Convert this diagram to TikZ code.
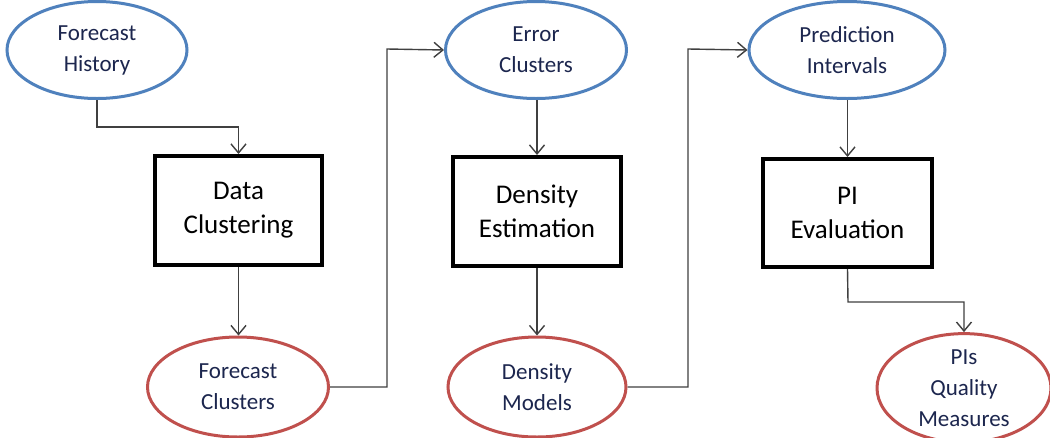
\documentclass[tikz,border=0pt]{standalone}
\usepackage{fontspec}
\setmainfont{Carlito}
\usetikzlibrary{shapes.geometric,arrows.meta}
\definecolor{ellblue}{RGB}{79,129,189}
\definecolor{ellred}{RGB}{192,80,77}
\definecolor{elltext}{RGB}{28,38,78}
\definecolor{conngray}{RGB}{64,64,64}
\tikzset{
  blueell/.style={ellipse,draw=ellblue,line width=3pt,inner sep=0pt,align=center,text=elltext,font=\fontsize{23}{31}\selectfont},
  redell/.style={ellipse,draw=ellred,line width=3pt,inner sep=0pt,align=center,text=elltext,font=\fontsize{23}{31}\selectfont},
  procbox/.style={rectangle,draw=black,line width=4pt,inner sep=0pt,align=center,text=black,font=\fontsize{27}{34}\selectfont},
  conn/.style={draw=conngray,line width=1.4pt,-{Straight Barb[length=9pt,width=15pt,line width=1.4pt]}},
  plainconn/.style={draw=conngray,line width=1.4pt}
}
\begin{document}
\begin{tikzpicture}[x=1pt,y=-1pt]
\useasboundingbox[fill=white] (0,0) rectangle (1050,437);
% ellipses
\node[blueell,minimum width=180pt,minimum height=97pt] (fh) at (97,50) {Forecast\\History};
\node[blueell,minimum width=181pt,minimum height=97pt] (ec) at (536,50) {Error\\Clusters};
\node[blueell,minimum width=196pt,minimum height=97pt] (pin) at (847,50) {Prediction\\Intervals};
\node[redell,minimum width=181pt,minimum height=100pt] (fc) at (238,387) {Forecast\\Clusters};
\node[redell,minimum width=178pt,minimum height=100pt] (dm) at (537,387) {Density\\Models};
\node[redell,minimum width=174pt,minimum height=100pt] (pq) at (964,388) {PIs\\Quality\\Measures};
% boxes
\node[procbox,minimum width=167pt,minimum height=109pt] (dc) at (238.5,210.5) {Data\\Clustering};
\node[procbox,minimum width=168pt,minimum height=109pt] (de) at (537,211.5) {Density\\Estimation};
\node[procbox,minimum width=169pt,minimum height=108pt] (pe) at (847.5,213) {PI\\Evaluation};
% bend points
\coordinate (k1) at (97,127);
\coordinate (k2) at (387,49);
\coordinate (k3) at (688,49);
\coordinate (k4) at (848,302);
% connectors
\draw[conn] (fh.south) -- (k1) -| (dc.north);
\draw[conn] (dc.south) -- (dc.south |- fc.north);
\draw[conn] (fc.east) -| (k2) -- (ec.west);
\draw[conn] (ec.south -| de.north) -- (de.north);
\draw[conn] (de.south) -- (de.south |- dm.north);
\draw[conn] (dm.east) -| (k3) -- (pin.west);
\draw[conn] (pin.south -| pe.north) -- (pe.north);
\draw[conn] (pe.south) -- (k4) -| (pq.north);
\end{tikzpicture}
\end{document}
